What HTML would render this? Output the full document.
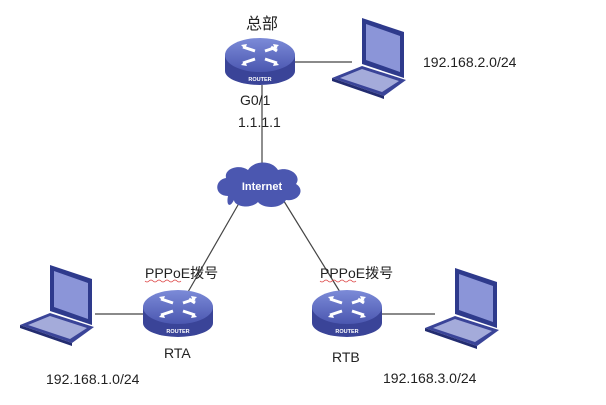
<!DOCTYPE html>
<html><head><meta charset="utf-8"><style>
html,body{margin:0;padding:0;background:#fff;}
svg{display:block;font-family:"Liberation Sans","Noto Sans CJK SC",sans-serif;}
</style></head><body>
<svg width="606" height="405" viewBox="0 0 606 405" xmlns="http://www.w3.org/2000/svg">
<defs>
<linearGradient id="rtop" x1="0" y1="0" x2="0" y2="1"><stop offset="0" stop-color="#7c8bd8"/><stop offset="1" stop-color="#4b57b0"/></linearGradient>
<g id="router">
  <path d="M0 17 L0 33 A35 14 0 0 0 70 33 L70 17 Z" fill="#3a4498"/>
  <ellipse cx="35" cy="17" rx="35" ry="17" fill="url(#rtop)"/>
  <g stroke="#fff" stroke-width="3" fill="none">
    <path d="M18 9 L30 13 M46 9 L52 13 M40 13 L52 9 M18 25 L30 21 M40 21 L52 25"/>
  </g>
  <g fill="#fff"><path d="M16 7 L22 6 L20 11Z M54 7 L48 6 L50 11Z M16 27 L22 28 L20 23Z M54 27 L48 28 L50 23Z"/></g>
  <text x="35" y="43" font-size="5.5" fill="#fff" text-anchor="middle" font-weight="bold">ROUTER</text>
</g>
<g id="laptop">
  <path d="M30 0 L72 14 L72 60 L30 46 Z" fill="#2e3a8c"/>
  <path d="M34 6 L68 18 L68 54 L34 42 Z" fill="#8b95d8"/>
  <path d="M30 48 L74 62 L52 78 L0 60 Z" fill="#3a4498"/>
  <path d="M30 51 L67 63 L50 74 L8 60 Z" fill="#c8cdf0" opacity="0.75"/>
  <path d="M0 60 L52 78 L52 81 L0 63Z" fill="#232c70"/>
</g>
</defs>
<g stroke="#444" stroke-width="1.2">
<line x1="295" y1="62" x2="352" y2="62"/>
<line x1="262" y1="85" x2="262" y2="172"/>
<line x1="242" y1="198" x2="188" y2="292"/>
<line x1="282" y1="198" x2="340" y2="292"/>
<line x1="95" y1="314" x2="145" y2="314"/>
<line x1="378" y1="314" x2="435" y2="314"/>
</g>
<use href="#router" x="225" y="38"/>
<use href="#router" x="143" y="290"/>
<use href="#router" x="312" y="290"/>
<use href="#laptop" x="332" y="18"/>
<use href="#laptop" x="20" y="265"/>
<use href="#laptop" x="425" y="268"/>
<path d="M228 196 C214 196 214 180 226 178 C224 168 240 164 248 170 C254 160 272 160 278 170 C290 166 302 176 296 184 C306 190 298 202 286 200 C280 210 262 208 258 202 C250 210 234 206 234 200 C230 208 226 206 228 196Z" fill="#4b57b0"/>
<text x="262" y="190" font-size="11" font-weight="bold" fill="#fff" text-anchor="middle">Internet</text>
<g fill="#222" font-size="14">
<text x="262" y="29" text-anchor="middle" font-size="16">总部</text>
<text x="240" y="105">G0/1</text>
<text x="238" y="127">1.1.1.1</text>
<text x="423" y="67">192.168.2.0/24</text>
<text x="145" y="278">PPPoE拨号</text>
<text x="320" y="278">PPPoE拨号</text>
<text x="164" y="358">RTA</text>
<text x="332" y="362">RTB</text>
<text x="46" y="384">192.168.1.0/24</text>
<text x="383" y="383">192.168.3.0/24</text>
</g>
<path d="M145 281 q2 2 4 0 q2 -2 4 0 q2 2 4 0 q2 -2 4 0 q2 2 4 0 q2 -2 4 0 q2 2 4 0 q2 -2 4 0 q2 2 4 0 M320 281 q2 2 4 0 q2 -2 4 0 q2 2 4 0 q2 -2 4 0 q2 2 4 0 q2 -2 4 0 q2 2 4 0 q2 -2 4 0 q2 2 4 0" stroke="#d44" stroke-width="0.8" fill="none"/>
</svg>
</body></html>
